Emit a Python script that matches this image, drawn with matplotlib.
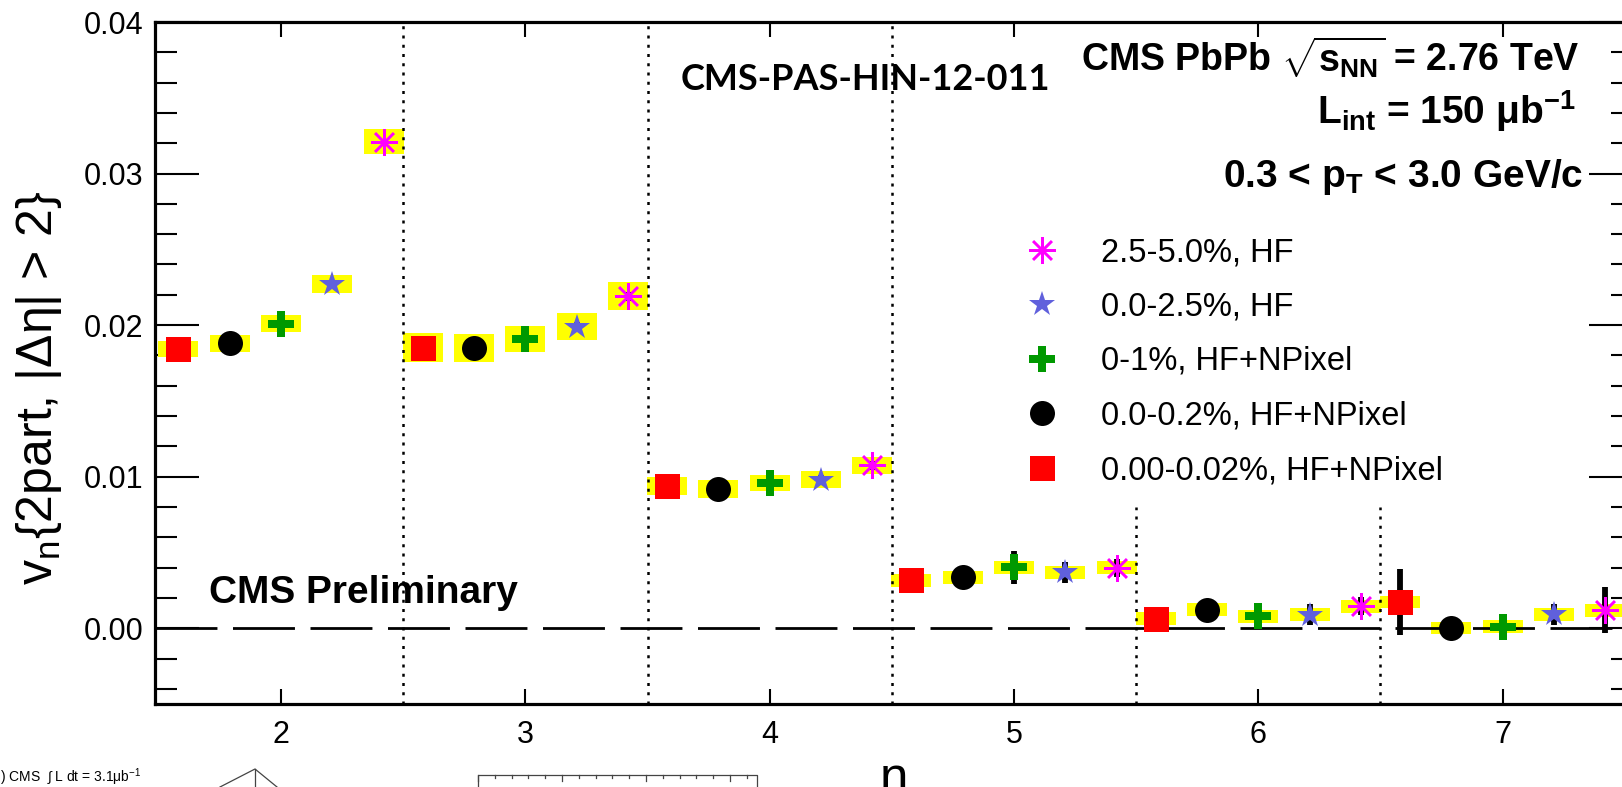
import matplotlib
matplotlib.use("Agg")
import matplotlib.pyplot as plt
from matplotlib.patches import Rectangle
from matplotlib.lines import Line2D

# ---------------- data ----------------
harmonics = [2, 3, 4, 5, 6, 7]
series_labels = ["0.00-0.02%, HF+NPixel", "0.0-0.2%, HF+NPixel", "0-1%, HF+NPixel",
                 "0.0-2.5%, HF", "2.5-5.0%, HF"]

vn_0p00_0p02 = [0.0184, 0.0185, 0.00937, 0.00317, 0.00064, 0.00174]
vn_0p0_0p2 = [0.0188, 0.0185, 0.00917, 0.00335, 0.00123, 0.00002]
vn_0_1 = [0.0201, 0.0191, 0.00959, 0.00401, 0.00079, 0.00010]
vn_0p0_2p5 = [0.0227, 0.0199, 0.00981, 0.00370, 0.00090, 0.00092]
vn_2p5_5p0 = [0.0321, 0.0219, 0.01076, 0.00398, 0.00145, 0.00119]

stat_0p00_0p02 = [0.0002, 0.0003, 0.0003, 0.0004, 0.0006, 0.0022]
stat_0p0_0p2 = [0.0002, 0.0003, 0.0003, 0.0004, 0.0005, 0.0006]
stat_0_1 = [0.0002, 0.0003, 0.0003, 0.0011, 0.0005, 0.0006]
stat_0p0_2p5 = [0.0002, 0.0003, 0.0003, 0.0007, 0.0007, 0.0007]
stat_2p5_5p0 = [0.0002, 0.0003, 0.0003, 0.00057, 0.0006, 0.0015]

sys_0p00_0p02 = [0.00053, 0.00096, 0.00059, 0.00043, 0.00043, 0.00040]
sys_0p0_0p2 = [0.00056, 0.00092, 0.00059, 0.00043, 0.00043, 0.00040]
sys_0_1 = [0.00056, 0.00086, 0.00053, 0.00040, 0.00043, 0.00043]
sys_0p0_2p5 = [0.00059, 0.00089, 0.00056, 0.00043, 0.00043, 0.00043]
sys_2p5_5p0 = [0.00083, 0.00092, 0.00056, 0.00043, 0.00043, 0.00043]

xticks = [2, 3, 4, 5, 6, 7]
yticks = [0.00, 0.01, 0.02, 0.03, 0.04]
ytick_labels = ["0.00", "0.01", "0.02", "0.03", "0.04"]
separators = [2.5, 3.5, 4.5, 5.5, 6.5]

# ---------------- style ----------------
values = [vn_0p00_0p02, vn_0p0_0p2, vn_0_1, vn_0p0_2p5, vn_2p5_5p0]
stats = [stat_0p00_0p02, stat_0p0_0p2, stat_0_1, stat_0p0_2p5, stat_2p5_5p0]
syss = [sys_0p00_0p02, sys_0p0_0p2, sys_0_1, sys_0p0_2p5, sys_2p5_5p0]
offsets = [-0.42, -0.21, 0.0, 0.21, 0.42]
styles = [
    dict(marker='s', color='#ff0000', ms=18, mew=0),
    dict(marker='o', color='black', ms=18, mew=0),
    dict(marker='P', color='#009900', ms=19, mew=0),
    dict(marker='*', color='#6060dc', ms=19, mew=0),
    dict(marker=(8, 2, 0), color='#ff00ff', ms=19, mew=1.8),
]

plt.rcParams['font.family'] = ['Liberation Sans', 'DejaVu Sans']
plt.rcParams['mathtext.fontset'] = 'custom'
plt.rcParams['mathtext.rm'] = 'Liberation Sans'
plt.rcParams['mathtext.it'] = 'Liberation Sans:italic'
plt.rcParams['mathtext.bf'] = 'Liberation Sans:bold'
plt.rcParams['mathtext.default'] = 'regular'

W, H = 1622, 787
fig = plt.figure(figsize=(W / 100, H / 100), dpi=100)
ax_l, ax_r, ax_t, ax_b = 155, 1633, 22, 704
ax = fig.add_axes([ax_l / W, 1 - ax_b / H, (ax_r - ax_l) / W, (ax_b - ax_t) / H])

ax.set_xlim(1.484, 7.534)
ax.set_ylim(-0.005, 0.04)

# systematic boxes
box_w = 0.164
for vals, sy, off in zip(values, syss, offsets):
    for n, v, s in zip(harmonics, vals, sy):
        ax.add_patch(Rectangle((n + off - box_w / 2, v - s), box_w, 2 * s,
                               facecolor='#ffff00', edgecolor='none', zorder=2))

# zero line and separators
ax.axhline(0, color='black', lw=2.0, dashes=(22.3, 5.6), zorder=2.6)
for sx in separators:
    top = 1.0 if sx < 5 else 0.289
    ax.axvline(sx, ymin=0, ymax=top, color='black', lw=1.8,
               linestyle=(0, (1.2, 2.5)), zorder=2.5)

# error bars and markers
handles = []
for vals, st, off, sty, lab in zip(values, stats, offsets, styles, series_labels):
    xs = [n + off for n in harmonics]
    ax.errorbar(xs, vals, yerr=st, fmt='none', ecolor='black', elinewidth=4.2,
                capsize=0, zorder=3)
    h, = ax.plot(xs, vals, linestyle='none', marker=sty['marker'], ms=sty['ms'],
                 color=sty['color'], mec=sty['color'], mfc=sty['color'],
                 mew=sty['mew'], zorder=4, label=lab)
    handles.append(h)

# ticks
ax.set_xticks(xticks)
ax.set_xticklabels([str(t) for t in xticks])
ax.set_yticks(yticks)
ax.set_yticklabels(ytick_labels)
ax.set_yticks([i * 0.002 - 0.004 for i in range(23)], minor=True)
ax.tick_params(axis='x', which='major', direction='in', length=10.8, width=1.5,
               top=True, bottom=True, labelsize=22, pad=11.5)
ax.tick_params(axis='x', which='minor', bottom=False, top=False)
ax.tick_params(axis='y', which='major', direction='in', length=31.7, width=1.5,
               left=True, right=True, labelsize=22, pad=8.5)
ax.tick_params(axis='y', which='minor', direction='in', length=15.8, width=1.5,
               left=True, right=True)
for sp in ax.spines.values():
    sp.set_linewidth(2.3)

# axis titles
fig.text(39 / W, 1 - 388 / H, r'v$_{n}${2part, |Δη| > 2}', rotation=90,
         ha='center', va='center', fontsize=36)
fig.text(894 / W, 1 - 794 / H, 'n', ha='center', va='baseline', fontsize=37)

# annotations
fig.text(209 / W, 1 - 603 / H, 'CMS Preliminary', fontsize=28, fontweight='bold',
         va='baseline', ha='left')
fig.text(681 / W, 1 - 90 / H, 'CMS-PAS-HIN-12-011', fontsize=26, fontweight='bold',
         family=['Lato', 'DejaVu Sans'], va='baseline', ha='left')
fig.text(1580 / W, 1 - 72 / H, r'CMS PbPb $\sqrt{s_{NN}}$ = 2.76 TeV', fontsize=27,
         fontweight='bold', ha='right', va='baseline')
fig.text(1576 / W, 1 - 124 / H, r'L$_{int}$ = 150 μb$^{-1}$', fontsize=28,
         fontweight='bold', ha='right', va='baseline')
fig.text(1583 / W, 1 - 187 / H, r'0.3 < p$_{T}$ < 3.0 GeV/c', fontsize=28,
         fontweight='bold', ha='right', va='baseline')

# legend
leg = ax.legend(handles=handles[::-1], loc='upper left',
                bbox_to_anchor=(1011 / W, 1 - 237 / H), bbox_transform=fig.transFigure,
                frameon=False, fontsize=23.5, handlelength=1.9, handletextpad=0.85,
                labelspacing=0.72, borderpad=0, borderaxespad=0, numpoints=1)

# fragments of neighbouring figure at the bottom
fig.text(0 / W, 1 - 782 / H, r') CMS  $\int$ L dt = 3.1μb$^{-1}$', fontsize=10,
         va='baseline', ha='left')
frag = dict(color='#444444', lw=0.9)
fig.add_artist(Line2D([220 / W, 255 / W, 277 / W], [1 - 787 / H, 1 - 769 / H, 1 - 787 / H],
                      transform=fig.transFigure, **frag))
fig.add_artist(Line2D([255 / W, 255 / W], [1 - 769 / H, 0], transform=fig.transFigure, **frag))
fig.add_artist(Line2D([478 / W, 478 / W, 757 / W, 757 / W],
                      [0, 1 - 775 / H, 1 - 775 / H, 0], transform=fig.transFigure, **frag))
for i in range(17):
    xx = (478 + i * 16.8) / W
    ln = 6 if i % 5 == 0 else 3
    fig.add_artist(Line2D([xx, xx], [1 - 775 / H, 1 - (775 + ln) / H],
                          transform=fig.transFigure, **frag))

fig.savefig('out.png', dpi=100)
